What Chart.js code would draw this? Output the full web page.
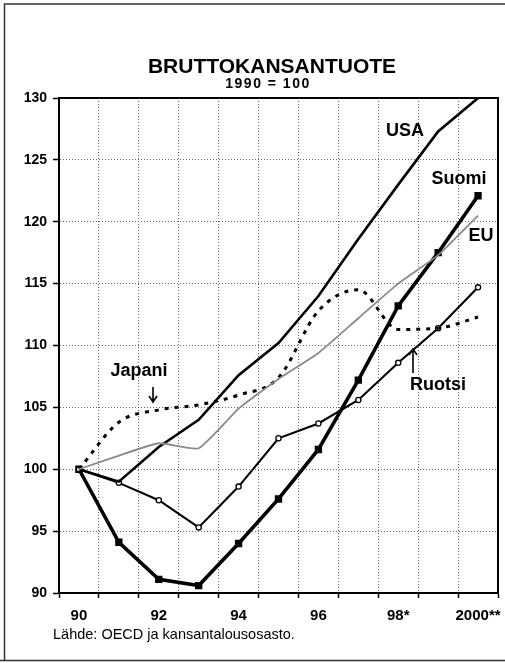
<!DOCTYPE html>
<html>
<head>
<meta charset="utf-8">
<script src="https://cdn.jsdelivr.net/npm/chart.js@4/dist/chart.umd.min.js"></script>
<style>
  html, body { margin: 0; padding: 0; background: #fff; }
  canvas { display: block; }
</style>
</head>
<body>
<canvas id="c" width="505" height="663"></canvas>
<script>
// years 1990..2000, labels shown every other year
const years = ['1990', '1991', '1992', '1993', '1994', '1995', '1996', '1997', '1998', '1999', '2000'];
const yearTicks = ['90', '', '92', '', '94', '', '96', '', '98*', '', '2000**'];

// GDP index, 1990 = 100
const suomi  = [100, 94.1, 91.1, 90.6, 94.0, 97.6, 101.6, 107.2, 113.2, 117.5, 122.1];
const ruotsi = [100, 98.9, 97.5, 95.3, 98.6, 102.5, 103.7, 105.6, 108.6, 111.4, 114.7];
const usa    = [100, 99.0, 101.8, 104.0, 107.6, 110.2, 114.0, 118.6, 123.0, 127.3, 130.0];
const japani = [100, 103.8, 104.8, 105.2, 106.0, 107.4, 112.8, 114.5, 111.3, 111.4, 112.3];
const eu     = [100, 101.1, 102.1, 101.7, 104.9, 107.3, 109.4, 112.2, 115.0, 117.3, 120.5];

const yMin = 90, yMax = 130, yStep = 5;

const FONT = "'Liberation Sans', Arial, Helvetica, sans-serif";

// title, series names, arrows, frame and source line
const decorations = {
  id: 'decorations',
  beforeDraw(chart) {
    const ctx = chart.ctx;
    ctx.save();
    ctx.fillStyle = '#fff';
    ctx.fillRect(0, 0, chart.width, chart.height);
    ctx.strokeStyle = '#333';
    ctx.lineWidth = 1.5;
    ctx.beginPath();
    ctx.moveTo(4.5, 661);
    ctx.lineTo(4.5, 4);
    ctx.lineTo(505, 4);
    ctx.moveTo(0, 660.5);
    ctx.lineTo(505, 660.5);
    ctx.stroke();
    ctx.restore();
  },
  afterDraw(chart) {
    const ctx = chart.ctx;
    const a = chart.chartArea;
    ctx.save();
    // plot frame
    ctx.strokeStyle = '#000';
    ctx.lineWidth = 2;
    ctx.strokeRect(a.left, a.top, a.right - a.left, a.bottom - a.top);

    ctx.fillStyle = '#000';
    ctx.textBaseline = 'middle';
    ctx.textAlign = 'center';
    ctx.font = 'bold 21px ' + FONT;
    ctx.fillText('BRUTTOKANSANTUOTE', 272, 67);
    ctx.font = 'bold 14px ' + FONT;
    ctx.letterSpacing = '1.5px';
    ctx.fillText('1990 = 100', 268, 84);
    ctx.letterSpacing = '0px';

    ctx.font = 'bold 18px ' + FONT;
    ctx.fillText('USA', 405, 131);
    ctx.fillText('Suomi', 459, 179);
    ctx.fillText('EU', 481, 236);
    ctx.fillText('Japani', 139, 371);
    ctx.fillText('Ruotsi', 438, 385);

    ctx.textAlign = 'left';
    ctx.font = '14.5px ' + FONT;
    ctx.fillText('Lähde: OECD ja kansantalousosasto.', 53, 635);

    // arrows
    ctx.lineWidth = 1.6;
    ctx.beginPath();
    ctx.moveTo(153, 387); ctx.lineTo(153, 401);
    ctx.moveTo(149, 396); ctx.lineTo(153, 402); ctx.lineTo(157, 396);
    ctx.moveTo(413, 373); ctx.lineTo(413, 350);
    ctx.moveTo(409, 355); ctx.lineTo(413, 349); ctx.lineTo(417, 355);
    ctx.stroke();
    ctx.restore();
  }
};

new Chart(document.getElementById('c'), {
  type: 'line',
  data: {
    labels: years,
    datasets: [
      {
        label: 'EU',
        data: eu,
        borderColor: '#8a8a8a',
        borderWidth: 1.8,
        pointRadius: 0,
        tension: 0.15
      },
      {
        label: 'Japani',
        data: japani,
        borderColor: '#000',
        borderWidth: 3,
        borderDash: [4, 6],
        pointRadius: 0,
        cubicInterpolationMode: 'monotone'
      },
      {
        label: 'USA',
        data: usa,
        borderColor: '#000',
        borderWidth: 2.6,
        pointRadius: 0
      },
      {
        label: 'Ruotsi',
        data: ruotsi,
        borderColor: '#000',
        borderWidth: 2.1,
        pointRadius: 2.6,
        pointBorderWidth: 1.3,
        pointBackgroundColor: '#fff',
        pointBorderColor: '#000'
      },
      {
        label: 'Suomi',
        data: suomi,
        borderColor: '#000',
        borderWidth: 3.6,
        pointStyle: 'rect',
        pointRadius: 5.2,
        pointBackgroundColor: '#000',
        pointBorderColor: '#000',
        pointBorderWidth: 0
      }
    ]
  },
  options: {
    responsive: false,
    animation: false,
    layout: { padding: { top: 98, left: 0, right: 7, bottom: 40 } },
    plugins: {
      legend: { display: false },
      tooltip: { enabled: false },
      title: { display: false }
    },
    scales: {
      x: {
        type: 'category',
        offset: true,
        grid: {
          offset: true,
          color: '#666',
          lineWidth: 1,
          tickLength: 5,
          tickColor: '#000',
          tickWidth: 1.5,
          tickBorderDash: []
        },
        border: { display: true, color: '#000', width: 2, dash: [1, 2] },
        ticks: {
          autoSkip: false,
          maxRotation: 0,
          padding: 9,
          color: '#000',
          font: { family: FONT, size: 15, weight: 'bold' },
          callback: (v, i) => yearTicks[i]
        },
        afterFit: s => { s.height = 30; s.paddingLeft = 0; s.paddingRight = 0; }
      },
      y: {
        min: yMin,
        max: yMax,
        grid: {
          color: '#666',
          lineWidth: 1,
          tickLength: 6,
          tickColor: '#000',
          tickWidth: 1.5,
          tickBorderDash: []
        },
        border: { display: true, color: '#000', width: 2, dash: [1, 2] },
        ticks: {
          stepSize: yStep,
          padding: 6,
          color: '#000',
          font: { family: FONT, size: 14, weight: 'bold' }
        },
        afterFit: s => { s.width = 59; s.paddingTop = 0; s.paddingBottom = 0; }
      }
    }
  },
  plugins: [decorations]
});
</script>
</body>
</html>
